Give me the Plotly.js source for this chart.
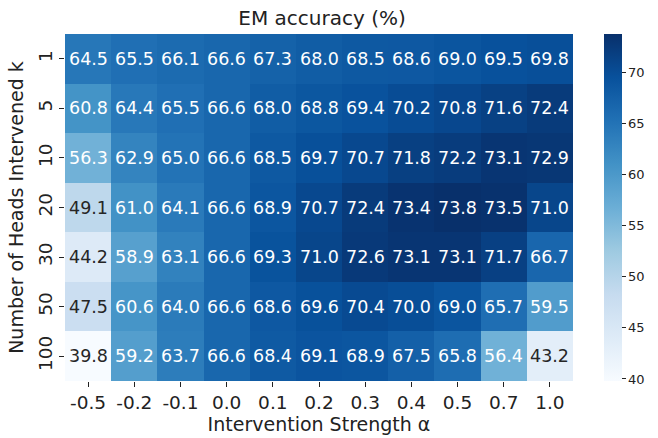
<!DOCTYPE html>
<html>
<head>
<meta charset="utf-8">
<script src="https://cdn.plot.ly/plotly-3.0.1.min.js"></script>
<style>
  html, body { margin: 0; padding: 0; background: #fff; }
  #chart { width: 658px; height: 438px; }
</style>
</head>
<body>
<div id="chart"></div>
<script>
// Intervention strength (columns) and number of intervened heads (rows)
const alphas = ['-0.5', '-0.2', '-0.1', '0.0', '0.1', '0.2', '0.3', '0.4', '0.5', '0.7', '1.0'];
const headCounts = ['1', '5', '10', '20', '30', '50', '100'];

// EM accuracy (%) for each k, across the alpha values
const k1   = [64.5, 65.5, 66.1, 66.6, 67.3, 68.0, 68.5, 68.6, 69.0, 69.5, 69.8];
const k5   = [60.8, 64.4, 65.5, 66.6, 68.0, 68.8, 69.4, 70.2, 70.8, 71.6, 72.4];
const k10  = [56.3, 62.9, 65.0, 66.6, 68.5, 69.7, 70.7, 71.8, 72.2, 73.1, 72.9];
const k20  = [49.1, 61.0, 64.1, 66.6, 68.9, 70.7, 72.4, 73.4, 73.8, 73.5, 71.0];
const k30  = [44.2, 58.9, 63.1, 66.6, 69.3, 71.0, 72.6, 73.1, 73.1, 71.7, 66.7];
const k50  = [47.5, 60.6, 64.0, 66.6, 68.6, 69.6, 70.4, 70.0, 69.0, 65.7, 59.5];
const k100 = [39.8, 59.2, 63.7, 66.6, 68.4, 69.1, 68.9, 67.5, 65.8, 56.4, 43.2];

const z = [k1, k5, k10, k20, k30, k50, k100];

// Blues colour ramp
const blues = [
  [0.000, '#f7fbff'], [0.125, '#deebf7'], [0.250, '#c6dbef'],
  [0.375, '#9ecae1'], [0.500, '#6baed6'], [0.625, '#4292c6'],
  [0.750, '#2171b5'], [0.875, '#08519c'], [1.000, '#08306b']
];

const flat = z.flat();
const zmin = Math.min(...flat);
const zmax = Math.max(...flat);

function hexToRgb(h) {
  return [1, 3, 5].map(i => parseInt(h.slice(i, i + 2), 16));
}
function colorAt(v) {
  const t = (v - zmin) / (zmax - zmin);
  for (let i = 1; i < blues.length; i++) {
    if (t <= blues[i][0]) {
      const [t0, c0] = blues[i - 1];
      const [t1, c1] = blues[i];
      const f = (t - t0) / (t1 - t0);
      const a = hexToRgb(c0), b = hexToRgb(c1);
      return a.map((x, j) => x + (b[j] - x) * f);
    }
  }
  return hexToRgb(blues[blues.length - 1][1]);
}
function luminance(rgb) {
  const c = rgb.map(x => {
    x /= 255;
    return x <= 0.03928 ? x / 12.92 : Math.pow((x + 0.055) / 1.055, 2.4);
  });
  return 0.2126 * c[0] + 0.7152 * c[1] + 0.0722 * c[2];
}

// Cell value labels (placed by category index), dark on light cells, white on dark ones
const annotations = [];
z.forEach((row, r) => {
  row.forEach((v, c) => {
    annotations.push({
      x: c, y: r, xref: 'x', yref: 'y',
      text: v.toFixed(1), showarrow: false,
      font: { family: 'DejaVu Sans', size: 17.5,
              color: luminance(colorAt(v)) > 0.408 ? '#262626' : '#ffffff' }
    });
  });
});

const trace = {
  type: 'heatmap',
  x: alphas,
  y: headCounts,
  z: z,
  zmin: zmin,
  zmax: zmax,
  colorscale: blues,
  xgap: 0, ygap: 0,
  hoverinfo: 'skip',
  colorbar: {
    x: 1.062, xanchor: 'left', xpad: 0,
    y: 0.5, yanchor: 'middle', len: 1.0, ypad: 0,
    thickness: 18,
    outlinewidth: 0,
    tickvals: [40, 45, 50, 55, 60, 65, 70],
    ticks: 'outside', ticklen: 4, tickwidth: 1, tickcolor: '#222',
    tickfont: { family: 'DejaVu Sans', size: 13, color: '#222' }
  }
};

const layout = {
  width: 658, height: 438,
  margin: { l: 65, r: 78, t: 34, b: 57 },
  paper_bgcolor: '#ffffff',
  plot_bgcolor: '#ffffff',
  font: { family: 'DejaVu Sans', color: '#222' },
  title: {
    text: 'EM accuracy (%)',
    x: 0.4895, xanchor: 'center',
    y: 0.958, yanchor: 'middle',
    font: { family: 'DejaVu Sans', size: 20, color: '#222' }
  },
  xaxis: {
    type: 'category',
    range: [-0.5, alphas.length - 0.5],
    title: { text: 'Intervention Strength α', standoff: 5,
             font: { family: 'DejaVu Sans', size: 19, color: '#222' } },
    ticks: 'outside', ticklen: 5, tickwidth: 1, tickcolor: '#222',
    tickfont: { family: 'DejaVu Sans', size: 18.5, color: '#222' },
    showgrid: false, zeroline: false, showline: false
  },
  yaxis: {
    type: 'category',
    range: [headCounts.length - 0.5, -0.5],
    title: { text: 'Number of Heads Intervened k', standoff: 5,
             font: { family: 'DejaVu Sans', size: 19, color: '#222' } },
    tickangle: -90,
    ticks: 'outside', ticklen: 5, tickwidth: 1, tickcolor: '#222',
    tickfont: { family: 'DejaVu Sans', size: 18.5, color: '#222' },
    showgrid: false, zeroline: false, showline: false
  },
  annotations: annotations
};

Plotly.newPlot('chart', [trace], layout, { displayModeBar: false, staticPlot: true });
</script>
</body>
</html>
